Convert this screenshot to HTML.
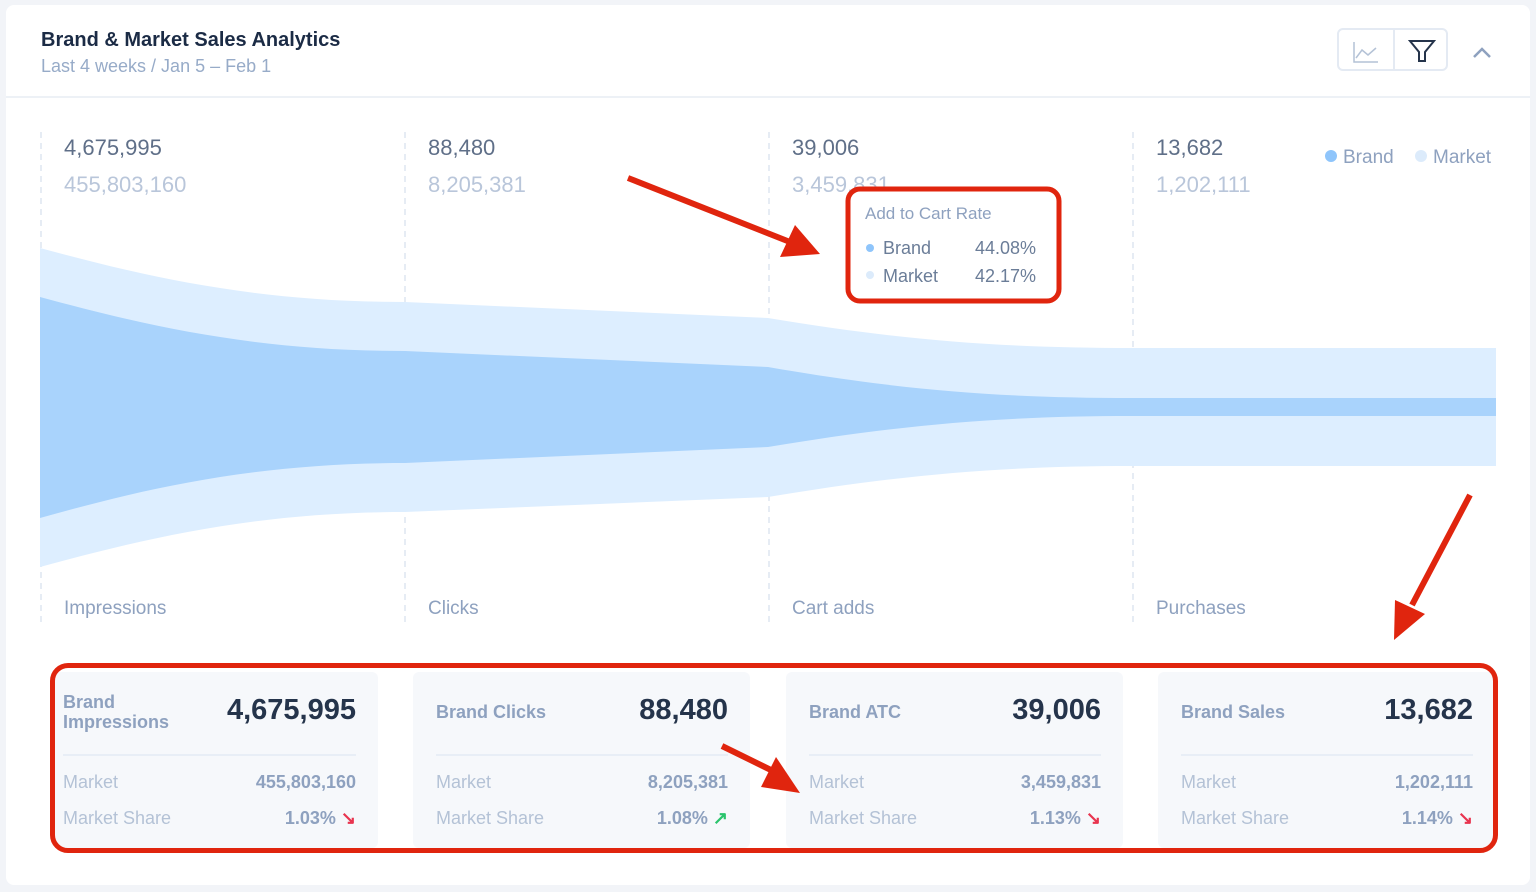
<!DOCTYPE html>
<html><head><style>
body{margin:0;width:1536px;height:892px;background:#f2f4f8;font-family:"Liberation Sans",sans-serif;position:relative;overflow:hidden}
.card{position:absolute;left:6px;top:5px;width:1524px;height:880px;background:#fff;border-radius:8px}
.abs{position:absolute}
.k{position:absolute;top:672px;height:176px;background:#f6f8fb;border-radius:6px}
.k .t{position:absolute;left:23px;top:30px;color:#8ea1bf;font-weight:bold;font-size:18px;line-height:20px}
.k .v{position:absolute;right:22px;top:22px;color:#25344b;font-weight:bold;font-size:29px}
.k .ln{position:absolute;left:23px;right:22px;top:82px;border-top:2px solid #e8eef6}
.k .r{position:absolute;left:23px;right:22px;font-size:18px;color:#b4c2d6}
.k .r b{float:right;color:#8ea1bf}
</style></head><body>
<div class="card"></div>
<div class="abs" style="left:6px;top:96px;width:1524px;border-top:2px solid #edf1f6"></div>
<div class="abs" style="left:41px;top:29px;font-size:20px;font-weight:bold;color:#1b2b45">Brand &amp; Market Sales Analytics</div>
<div class="abs" style="left:41px;top:56px;font-size:18px;color:#97abc8">Last 4 weeks / Jan 5 – Feb 1</div>
<div class="abs" style="left:1337px;top:28px;width:111px;height:43px;border:2px solid #e4eaf3;border-radius:6px;box-sizing:border-box"></div>
<div class="abs" style="left:1393px;top:28px;height:43px;border-left:2px solid #e4eaf3"></div>
<svg class="abs" style="left:0;top:0" width="1536" height="892">
<path d="M1354 42 V62 H1378 M1356 58 L1362 50 L1368 55 L1376 48" fill="none" stroke="#b4c2d6" stroke-width="1.5"/>
<path d="M1410 41 H1434 L1425 52 V61 L1419 61 V52 Z" fill="none" stroke="#25344b" stroke-width="2"/>
<path d="M1474 57 L1482 49 L1490 57" fill="none" stroke="#8ea1bf" stroke-width="2.5"/>
<g stroke="#dde5f0" stroke-dasharray="6,5" stroke-width="1.5">
<line x1="41" y1="132" x2="41" y2="625"/><line x1="405" y1="132" x2="405" y2="625"/><line x1="769" y1="132" x2="769" y2="625"/><line x1="1133" y1="132" x2="1133" y2="625"/></g>
<path d="M40 248 C140 275 250 302 405 302 L768 318 C900 340 1000 348 1132 348 L1496 348 L1496 466 L1132 466 C1000 466 900 475 768 497 L405 512 C250 512 140 540 40 567 Z" fill="#ddeeff"/>
<path d="M40 297 C140 324 250 351 405 351 L768 367 C900 390 1000 398 1132 398 L1496 398 L1496 416 L1132 416 C1000 416 900 425 768 447 L405 463 C250 463 140 490 40 518 Z" fill="#a9d3fc"/>
<g font-size="22" fill="#5f6f88"><text x="64" y="155">4,675,995</text><text x="428" y="155">88,480</text><text x="792" y="155">39,006</text><text x="1156" y="155">13,682</text></g>
<g font-size="22" fill="#b9c6da"><text x="64" y="192">455,803,160</text><text x="428" y="192">8,205,381</text><text x="792" y="192">3,459,831</text><text x="1156" y="192">1,202,111</text></g>
<g font-size="19" fill="#8ea1bf"><text x="64" y="614">Impressions</text><text x="428" y="614">Clicks</text><text x="792" y="614">Cart adds</text><text x="1156" y="614">Purchases</text></g>
<circle cx="1331" cy="156" r="6" fill="#8fc5fb"/><text x="1343" y="163" font-size="19" fill="#8ea1bf">Brand</text>
<circle cx="1421" cy="156" r="6" fill="#dcebfb"/><text x="1433" y="163" font-size="19" fill="#8ea1bf">Market</text>
<rect x="848" y="189" width="211" height="112" rx="12" fill="#fff" stroke="#e0250e" stroke-width="5"/>
<text x="865" y="219" font-size="17" fill="#8ea1bf">Add to Cart Rate</text>
<circle cx="870" cy="248" r="4" fill="#8fc5fb"/><text x="883" y="254" font-size="18" fill="#6b7d98">Brand</text><text x="1036" y="254" font-size="18" fill="#6b7d98" text-anchor="end">44.08%</text>
<circle cx="870" cy="275" r="4" fill="#dcebfb"/><text x="883" y="282" font-size="18" fill="#6b7d98">Market</text><text x="1036" y="282" font-size="18" fill="#6b7d98" text-anchor="end">42.17%</text>
</svg>
<div class="k" style="left:55px;width:323px"><div class="t" style="top:20px;left:8px">Brand<br>Impressions</div><div class="v">4,675,995</div><div class="ln" style="left:8px"></div><div class="r" style="top:100px;left:8px">Market<b>455,803,160</b></div><div class="r" style="top:136px;left:8px">Market Share<b>1.03% <span style="color:#e8344f">↘</span></b></div></div>
<div class="k" style="left:413px;width:337px"><div class="t">Brand Clicks</div><div class="v">88,480</div><div class="ln"></div><div class="r" style="top:100px">Market<b>8,205,381</b></div><div class="r" style="top:136px">Market Share<b>1.08% <span style="color:#2ac46c">↗</span></b></div></div>
<div class="k" style="left:786px;width:337px"><div class="t">Brand ATC</div><div class="v">39,006</div><div class="ln"></div><div class="r" style="top:100px">Market<b>3,459,831</b></div><div class="r" style="top:136px">Market Share<b>1.13% <span style="color:#e8344f">↘</span></b></div></div>
<div class="k" style="left:1158px;width:337px"><div class="t">Brand Sales</div><div class="v">13,682</div><div class="ln"></div><div class="r" style="top:100px">Market<b>1,202,111</b></div><div class="r" style="top:136px">Market Share<b>1.14% <span style="color:#e8344f">↘</span></b></div></div>
<div class="abs" style="left:50px;top:663px;width:1448px;height:190px;border:5px solid #e0250e;border-radius:18px;box-sizing:border-box"></div>
<svg class="abs" style="left:0;top:0" width="1536" height="892">
<g stroke="#e0250e" stroke-width="6" fill="#e0250e">
<line x1="628" y1="178" x2="790" y2="242"/><polygon points="820,254 780,257 795,225" stroke="none"/>
<line x1="1470" y1="495" x2="1412" y2="605"/><polygon points="1394,640 1395,600 1425,614" stroke="none"/>
<line x1="722" y1="746" x2="775" y2="772"/><polygon points="800,793 761,787 776,757" stroke="none"/>
</g>
</svg>
</body></html>
